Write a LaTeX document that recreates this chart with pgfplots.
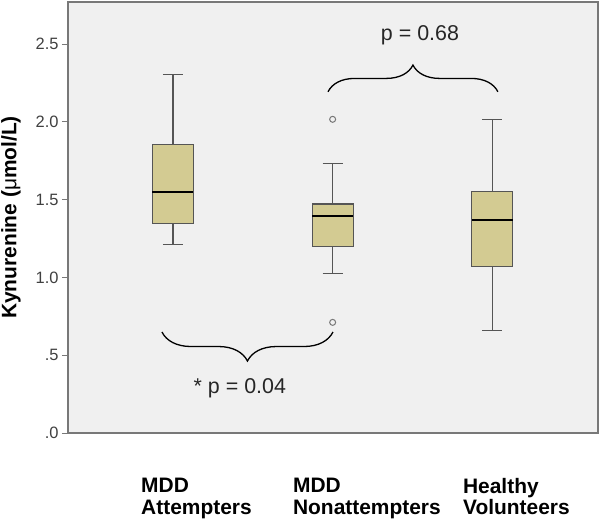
\documentclass[border=0pt]{standalone}
\usepackage{pgfplots}
\pgfplotsset{compat=1.18}
\usepgfplotslibrary{statistics}
\usetikzlibrary{decorations.pathreplacing}
\usepackage{fontspec}
\setmainfont{Liberation Sans}
\definecolor{boxfill}{RGB}{211,203,146}
\definecolor{bgc}{RGB}{240,240,240}
\definecolor{framec}{RGB}{120,120,120}
\definecolor{whisk}{RGB}{85,85,85}
\begin{document}
\begin{tikzpicture}
\begin{axis}[
 scale only axis, width=530bp, height=431bp,
 xmin=0.3425, xmax=3.662, ymin=0, ymax=2.77,
 axis background/.style={fill=bgc},
 axis line style={framec, line width=1.2bp},
 ytick={0,0.5,1,1.5,2,2.5}, yticklabels={.0,.5,1.0,1.5,2.0,2.5},
 yticklabel style={font=\fontsize{16.5}{18}\selectfont, text=black!75},
 ytick style={framec, line width=1bp},
 tick align=outside, major tick length=6bp,
 ytick pos=left,
 xtick={0.80,1.751,2.816},
 xticklabels={MDD\\Attempters, MDD\\Nonattempters, Healthy\\Volunteers},
 xticklabel style={anchor=north west, align=left, inner sep=0pt, yshift=-39bp,
   font=\fontsize{21}{21.5}\selectfont\bfseries},
 xtick style={draw=none},
 ylabel={\bfseries Kynurenine (\mdseries μ\bfseries mol/L)},
 every axis y label/.style={at={(axis description cs:-0.1075,0.5)}, rotate=90, anchor=center,
   font=\fontsize{21}{22}\selectfont},
 boxplot/draw direction=y,
 boxplot/every box/.style={draw=whisk, fill=boxfill, line width=1.1bp},
 boxplot/every whisker/.style={draw=whisk, line width=1.1bp},
 boxplot/every median/.style={draw=black, line width=2.2bp},
 clip=false,
]
\addplot[boxplot prepared={draw position=1, median=1.55, upper quartile=1.855,
  lower quartile=1.348, upper whisker=2.305, lower whisker=1.21,
  box extend=0.257, whisker extend=0.125}, draw=whisk] coordinates {};
\addplot[boxplot prepared={draw position=2, median=1.397, upper quartile=1.472,
  lower quartile=1.197, upper whisker=1.733, lower whisker=1.024,
  box extend=0.257, whisker extend=0.125}, draw=whisk, mark=o, mark size=3bp,
  mark options={draw=whisk!80, line width=1bp}] coordinates {(0,2.016) (0,0.711)};
\addplot[boxplot prepared={draw position=3, median=1.369, upper quartile=1.552,
  lower quartile=1.069, upper whisker=2.016, lower whisker=0.66,
  box extend=0.257, whisker extend=0.125}, draw=whisk] coordinates {};
\draw[decorate, decoration={brace, amplitude=26.7bp}, line width=1.3bp]
  (axis cs:1.971,2.193) -- (axis cs:3.035,2.193);
\draw[decorate, decoration={brace, amplitude=29bp}, line width=1.3bp]
  (axis cs:2.002,0.649) -- (axis cs:0.931,0.649);
\node[font=\fontsize{21.5}{24}\selectfont, text=black!85] at (axis cs:2.547,2.558) {p = 0.68};
\node[font=\fontsize{21.5}{24}\selectfont, text=black!85] at (axis cs:1.419,0.289) {* p = 0.04};
\end{axis}
\pgfresetboundingbox
\path ([xshift=-68bp,yshift=-92bp]current axis.south west) rectangle ([xshift=3bp,yshift=2bp]current axis.north east);
\end{tikzpicture}
\end{document}
